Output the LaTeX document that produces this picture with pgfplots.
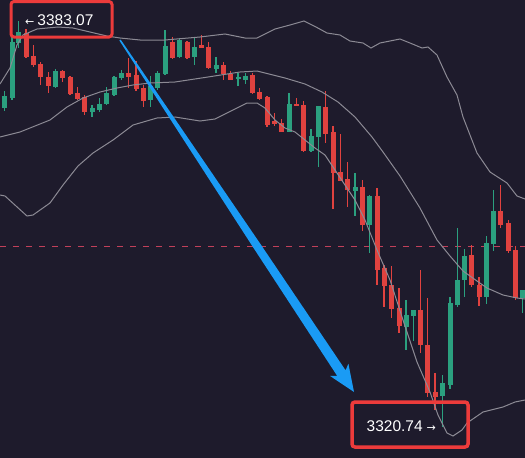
\documentclass[border=0pt]{standalone}
\usepackage{pgfplots}
\pgfplotsset{compat=1.18}
\usepackage{pgfplotstable}
\usepackage{fontspec}
\setmainfont{Liberation Sans}
\newfontfamily\arrowfont{DejaVu Sans}
\definecolor{bgcol}{HTML}{1E1B2C}
\definecolor{cgreen}{HTML}{2BA07F}
\definecolor{cred}{HTML}{E0423F}
\definecolor{bandgray}{HTML}{8C8A94}
\definecolor{dashcol}{HTML}{C2405A}
\definecolor{bluearrow}{HTML}{1A9BF5}
\definecolor{boxred}{HTML}{EC3B3B}

% candles in screen units: x, body top, body bottom, wick top, wick bottom
\pgfplotstableread{
x bt bb wt wb
4.5 96 108 91 111
12 42 98 37 100
18.5 32 43 21 48
55.7 71 87 69 88
92 108 112 105 117
99.3 104 110 98 112
106.7 93 104 87 105
114 77 95 76 96
121.7 73 78 70 80
150.7 86 100 76 107
157.7 73 88 71 90
165 46 74 30 75
179.3 40 57 38 58
194.3 47 57 37 65
216 65 69 57 73
238 77 79 73 86
245.3 76 80 73 84
289 104 132 93 132
311 136 151 129 152
318.3 106 137 106 167
355 187 191 173 216
369.7 196 225 195 253
406 315 327 300 350
413.3 310 316 310 341
442.7 383 396 375 427
450 303 385 297 389
457.3 280 305 228 307
464.7 256 280 249 297
486.3 243 297 236 304
493.3 211 244 190 251
522.7 290 298 290 313
}\greens

\pgfplotstableread{
x bt bb wt wb
26 33 57 29 58
33.3 56 65 45 67
40.7 64 77 62 85
48.3 77 86 72 93
62.7 71 78 70 82
70 77 94 76 95
77.3 93 99 87 100
84.7 97 112 95 115
128.5 73 77 58 88
136 75 89 61 91
143.3 88 101 85 107
172.3 42 58 37 59
187 42 58 41 59
201.5 45 48 35 48
208.5 47 68 42 69
223.3 65 74 62 80
230.7 74 80 71 80
252.5 75 93 73 94
259.5 92 99 88 100
267 97 125 96 127
274.3 121 124 113 126
281.7 123 132 119 132
296.5 104 106 98 106
303.5 105 151 101 152
325.7 107 134 91 143
333 132 173 126 209
340.7 172 181 134 181
347.7 179 190 162 207
362.3 187 225 180 231
377 196 270 188 285
384 268 286 265 307
391.7 285 309 266 318
399 308 326 288 333
420.7 310 345 270 353
427.7 345 393 298 397
435 392 397 373 410
471.7 255 285 245 287
479 285 297 277 306
500.7 211 225 185 228
508.3 223 251 220 253
515.7 250 298 246 300
}\reds

\pgfplotsset{candle/.style n args={2}{draw=none, mark=none, forget plot,
  error bars/.cd, y dir=both, y explicit, error mark=none,
  error bar style={draw=#1, line width=#2}}}

\begin{document}
\begin{tikzpicture}
\begin{axis}[
  width=525pt, height=458pt, scale only axis,
  xmin=0, xmax=525, ymin=0, ymax=458, y dir=reverse,
  hide axis, clip=true,
]
\fill[bgcol] (rel axis cs:0,0) rectangle (rel axis cs:1,1);

% dashed reference line
\addplot[dashcol, line width=1pt, dash pattern=on 6pt off 7pt] coordinates {(0,246) (525,246)};

% wicks
\addplot[candle={cgreen}{1.2pt}]
  table[x=x, y expr={(\thisrow{wt}+\thisrow{wb})/2}, y error expr={(\thisrow{wb}-\thisrow{wt})/2}] {\greens};
\addplot[candle={cred}{1.2pt}]
  table[x=x, y expr={(\thisrow{wt}+\thisrow{wb})/2}, y error expr={(\thisrow{wb}-\thisrow{wt})/2}] {\reds};
% bodies
\addplot[candle={cgreen}{5pt}]
  table[x=x, y expr={(\thisrow{bt}+\thisrow{bb})/2}, y error expr={(\thisrow{bb}-\thisrow{bt})/2}] {\greens};
\addplot[candle={cred}{5pt}]
  table[x=x, y expr={(\thisrow{bt}+\thisrow{bb})/2}, y error expr={(\thisrow{bb}-\thisrow{bt})/2}] {\reds};

% Bollinger bands
\addplot[bandgray, line width=1pt] coordinates {
(0,84) (10,68) (17,45) (23,35) (37,29) (58,27) (73,28) (90,32) (107,36) (120,38) (140,40) (165,40) (200,37) (225,34) (245,38) (257,38) (275,29) (290,25) (304,21) (316,27) (327,33) (340,35) (350,41) (363,43) (371,48) (380,43) (400,39) (410,43) (422,48) (428,47) (437,55) (447,77) (457,95) (463,117) (477,153) (490,172) (507,183) (517,196) (525,199)};
\addplot[bandgray, line width=1pt] coordinates {
(0,137) (20,132) (50,120) (67,107) (83,98) (100,92) (117,88) (133,85) (150,83) (175,82) (208,77) (240,72) (257,71) (285,78) (305,84) (322,92) (338,102) (355,117) (372,137) (383,152) (400,176) (420,208) (437,240) (450,256) (463,271) (477,281) (487,288) (503,295) (517,298) (525,299)};
\addplot[bandgray, line width=1pt] coordinates {
(0,195) (5,196) (27,216) (33,215) (50,203) (63,185) (78,166) (93,153) (113,140) (133,125) (157,118) (175,117) (200,121) (215,119) (237,108) (247,103) (257,103) (265,108) (275,120) (285,128) (295,132) (305,140) (315,148) (325,155) (335,170) (345,185) (355,200) (365,220) (377,250) (390,280) (403,320) (417,362) (430,392) (438,415) (447,433) (453,436) (462,430) (467,423) (483,412) (503,407) (515,402) (525,400)};

% blue arrow (tapered)
\fill[bluearrow] (axis cs:120.7,39.6) -- (axis cs:196.6,150.6) -- (axis cs:260.3,243.8) -- (axis cs:345.6,370.3) -- (axis cs:348.4,363.7) -- (axis cs:354,392) -- (axis cs:330,375.9) -- (axis cs:337.2,375.9) -- (axis cs:253.7,248.2) -- (axis cs:192.4,153.4) -- (axis cs:119.3,40.4) -- cycle;

% annotation boxes
\draw[boxred, line width=3pt, rounded corners=3pt] (axis cs:11,1.5) rectangle (axis cs:112,37);
\node[anchor=west, text=white, inner sep=0pt] at (axis cs:25,20) {{\arrowfont\fontsize{11}{12}\selectfont ←}\hspace{3pt}{\fontsize{15.5}{18}\selectfont 3383.07}};
\draw[boxred, line width=3.5pt, rounded corners=3pt] (axis cs:352,402) rectangle (axis cs:468,447);
\node[anchor=west, text=white, inner sep=0pt] at (axis cs:366.5,426) {{\fontsize{15.5}{18}\selectfont 3320.74}\hspace{4pt}{\arrowfont\fontsize{11}{12}\selectfont →}};
\end{axis}
\end{tikzpicture}
\end{document}
